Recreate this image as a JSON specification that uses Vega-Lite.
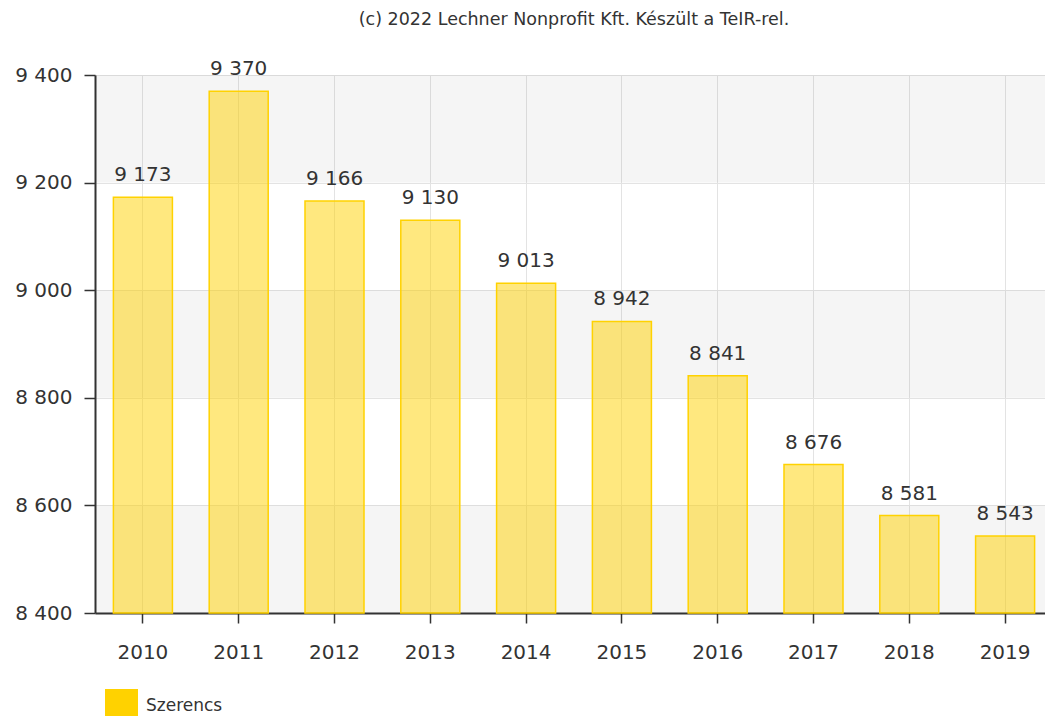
{
  "$schema": "https://vega.github.io/schema/vega-lite/v6.json",
  "autosize": {"type": "none"},
  "padding": {"left": 95, "top": 75, "right": 0, "bottom": 103},
  "width": 958,
  "height": 538,
  "background": "white",
  "config": {
    "view": {"stroke": null},
    "font": "DejaVu Sans",
    "locale": {
      "number": {"decimal": ",", "thousands": " ", "grouping": [3], "currency": ["", " Ft"]}
    }
  },
  "title": {
    "text": "(c) 2022 Lechner Nonprofit Kft. Készült a TeIR-rel.",
    "anchor": "middle",
    "frame": "group",
    "fontSize": 17.5,
    "fontWeight": "normal",
    "color": "#333333",
    "offset": 31,
    "font": "DejaVu Sans"
  },
  "datasets": {
    "bars": [
      {"year": "2010", "value": 9173, "region": "Szerencs"},
      {"year": "2011", "value": 9370, "region": "Szerencs"},
      {"year": "2012", "value": 9166, "region": "Szerencs"},
      {"year": "2013", "value": 9130, "region": "Szerencs"},
      {"year": "2014", "value": 9013, "region": "Szerencs"},
      {"year": "2015", "value": 8942, "region": "Szerencs"},
      {"year": "2016", "value": 8841, "region": "Szerencs"},
      {"year": "2017", "value": 8676, "region": "Szerencs"},
      {"year": "2018", "value": 8581, "region": "Szerencs"},
      {"year": "2019", "value": 8543, "region": "Szerencs"}
    ],
    "bands": [
      {"lo": 8400, "hi": 8600},
      {"lo": 8800, "hi": 9000},
      {"lo": 9200, "hi": 9400}
    ]
  },
  "layer": [
    {
      "data": {"name": "bands"},
      "mark": {"type": "rect", "fill": "#000000", "fillOpacity": 0.04},
      "encoding": {
        "y": {"field": "lo", "type": "quantitative", "scale": {"domain": [8400, 9400], "zero": false, "nice": false}},
        "y2": {"field": "hi"}
      }
    },
    {
      "data": {"name": "bars"},
      "mark": {"type": "bar", "fillOpacity": 0.5, "stroke": "#FFD200", "strokeWidth": 1.5},
      "encoding": {
        "x": {
          "field": "year", "type": "ordinal",
          "scale": {"paddingInner": 0.384, "paddingOuter": 0.192},
          "axis": {
            "title": null, "labelAngle": 0, "labelFontSize": 20, "labelColor": "#333333",
            "labelPadding": 19, "tickSize": 10, "tickColor": "#333333", "tickWidth": 1.5,
            "domainColor": "#333333", "domainWidth": 2, "grid": true, "gridColor": "#e3e3e3",
            "zindex": 0, "labelFont": "DejaVu Sans"
          }
        },
        "y": {
          "field": "value", "type": "quantitative",
          "scale": {"domain": [8400, 9400], "zero": false, "nice": false},
          "axis": {
            "title": null, "values": [8400, 8600, 8800, 9000, 9200, 9400],
            "format": ",.0f",
            "labelFontSize": 20, "labelColor": "#333333", "labelPadding": 12,
            "tickSize": 11, "tickColor": "#333333", "tickWidth": 1.5,
            "domainColor": "#333333", "domainWidth": 2, "grid": true, "gridColor": "#e3e3e3",
            "zindex": 0, "labelFont": "DejaVu Sans"
          }
        },
        "y2": {"datum": 8400},
        "color": {
          "field": "region", "type": "nominal",
          "scale": {"range": ["#FFD200"]},
          "legend": {
            "title": null, "orient": "none", "legendX": 10, "legendY": 614,
            "symbolType": "square", "symbolSize": 1089, "symbolOpacity": 1, "symbolStrokeWidth": 0,
            "labelFontSize": 17, "labelColor": "#333333", "labelOffset": 8, "padding": 0,
            "labelFont": "DejaVu Sans"
          }
        }
      }
    },
    {
      "data": {"name": "bars"},
      "mark": {"type": "text", "baseline": "alphabetic", "dy": -16, "fontSize": 20, "color": "#333333", "font": "DejaVu Sans"},
      "encoding": {
        "x": {"field": "year", "type": "ordinal"},
        "y": {"field": "value", "type": "quantitative"},
        "text": {"field": "value", "type": "quantitative", "format": ",.0f"}
      }
    }
  ]
}
